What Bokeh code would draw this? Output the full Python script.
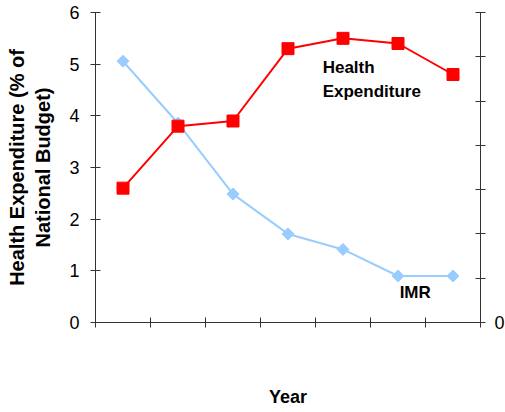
from bokeh.plotting import figure
from bokeh.models import Range1d, LinearAxis, FixedTicker, Label
from bokeh.embed import file_html
from bokeh.resources import INLINE
import math

# ---- data ----
periods = [1, 2, 3, 4, 5, 6, 7]
health_exp = [2.6, 3.8, 3.9, 5.3, 5.5, 5.4, 4.8]   # % of national budget (left axis)
imr = [118, 90, 58, 40, 33, 21, 21]                 # infant mortality rate (right axis)
left_ticks = [0, 1, 2, 3, 4, 5, 6]
right_ticks = [0, 20, 40, 60, 80, 100, 120, 140]
x_ticks = [0.5, 1.5, 2.5, 3.5, 4.5, 5.5, 6.5, 7.5]

FONT = "Liberation Sans"
AXIS_COL = "#333333"

p = figure(frame_width=385, frame_height=310, output_backend="svg", toolbar_location=None,
           x_range=Range1d(0.5, 7.5), y_range=Range1d(0, 6),
           min_border_left=95, min_border_top=12, min_border_right=25, min_border_bottom=0)
p.outline_line_color = None
p.grid.visible = False
p.background_fill_color = "white"
p.border_fill_color = "white"

p.extra_y_ranges = {"imr": Range1d(0, 140)}

def style_axis(ax):
    ax.axis_line_color = AXIS_COL
    ax.major_tick_line_color = AXIS_COL
    ax.major_tick_in = 5
    ax.major_tick_out = 5
    ax.minor_tick_line_color = None
    ax.major_label_text_font = FONT
    ax.major_label_text_font_size = "18px"
    ax.major_label_text_color = "black"
    ax.axis_label_text_font = FONT
    ax.axis_label_text_font_size = "18px"
    ax.axis_label_text_font_style = "bold"
    ax.axis_label_text_color = "black"

# left axis
ya = p.yaxis[0]
ya.ticker = FixedTicker(ticks=left_ticks)
ya.axis_label = "Health Expenditure (% of\nNational Budget)"
style_axis(ya)
ya.axis_label_text_font_size = "20px"
ya.axis_label_standoff = 12
ya.major_label_standoff = 11

# bottom axis
xa = p.xaxis[0]
xa.ticker = FixedTicker(ticks=x_ticks)
xa.major_label_overrides = {t: "" for t in x_ticks}
xa.axis_label = "Year"
style_axis(xa)
xa.axis_label_standoff = 59

# right axis
ra = LinearAxis(y_range_name="imr", ticker=FixedTicker(ticks=right_ticks))
ra.major_label_overrides = {t: "" for t in right_ticks if t != 0}
style_axis(ra)
ra.major_label_standoff = 9
p.add_layout(ra, "right")

# series
p.line(periods, imr, y_range_name="imr", line_color="#99CCFF", line_width=2)
p.scatter(periods, imr, y_range_name="imr", marker="square", angle=math.pi / 4,
          size=8.5, fill_color="#99CCFF", line_color="#99CCFF")

p.line(periods, health_exp, line_color="#FF0000", line_width=2)
p.scatter(periods, health_exp, marker="square", size=12,
          fill_color="#FF0000", line_color="#FF0000")

# annotations
for txt, yy in [("Health", 4.94), ("Expenditure", 4.47)]:
    p.add_layout(Label(x=4.63, y=yy, text=txt, text_font=FONT, text_font_size="17px",
                       text_font_style="bold", text_color="black",
                       text_baseline="middle", text_align="left"))
p.add_layout(Label(x=6.03, y=13.5, y_range_name="imr", text="IMR", text_font=FONT,
                   text_font_size="17px", text_font_style="bold", text_color="black",
                   text_baseline="middle", text_align="left"))

open("out.html", "w").write(file_html(p, INLINE))
